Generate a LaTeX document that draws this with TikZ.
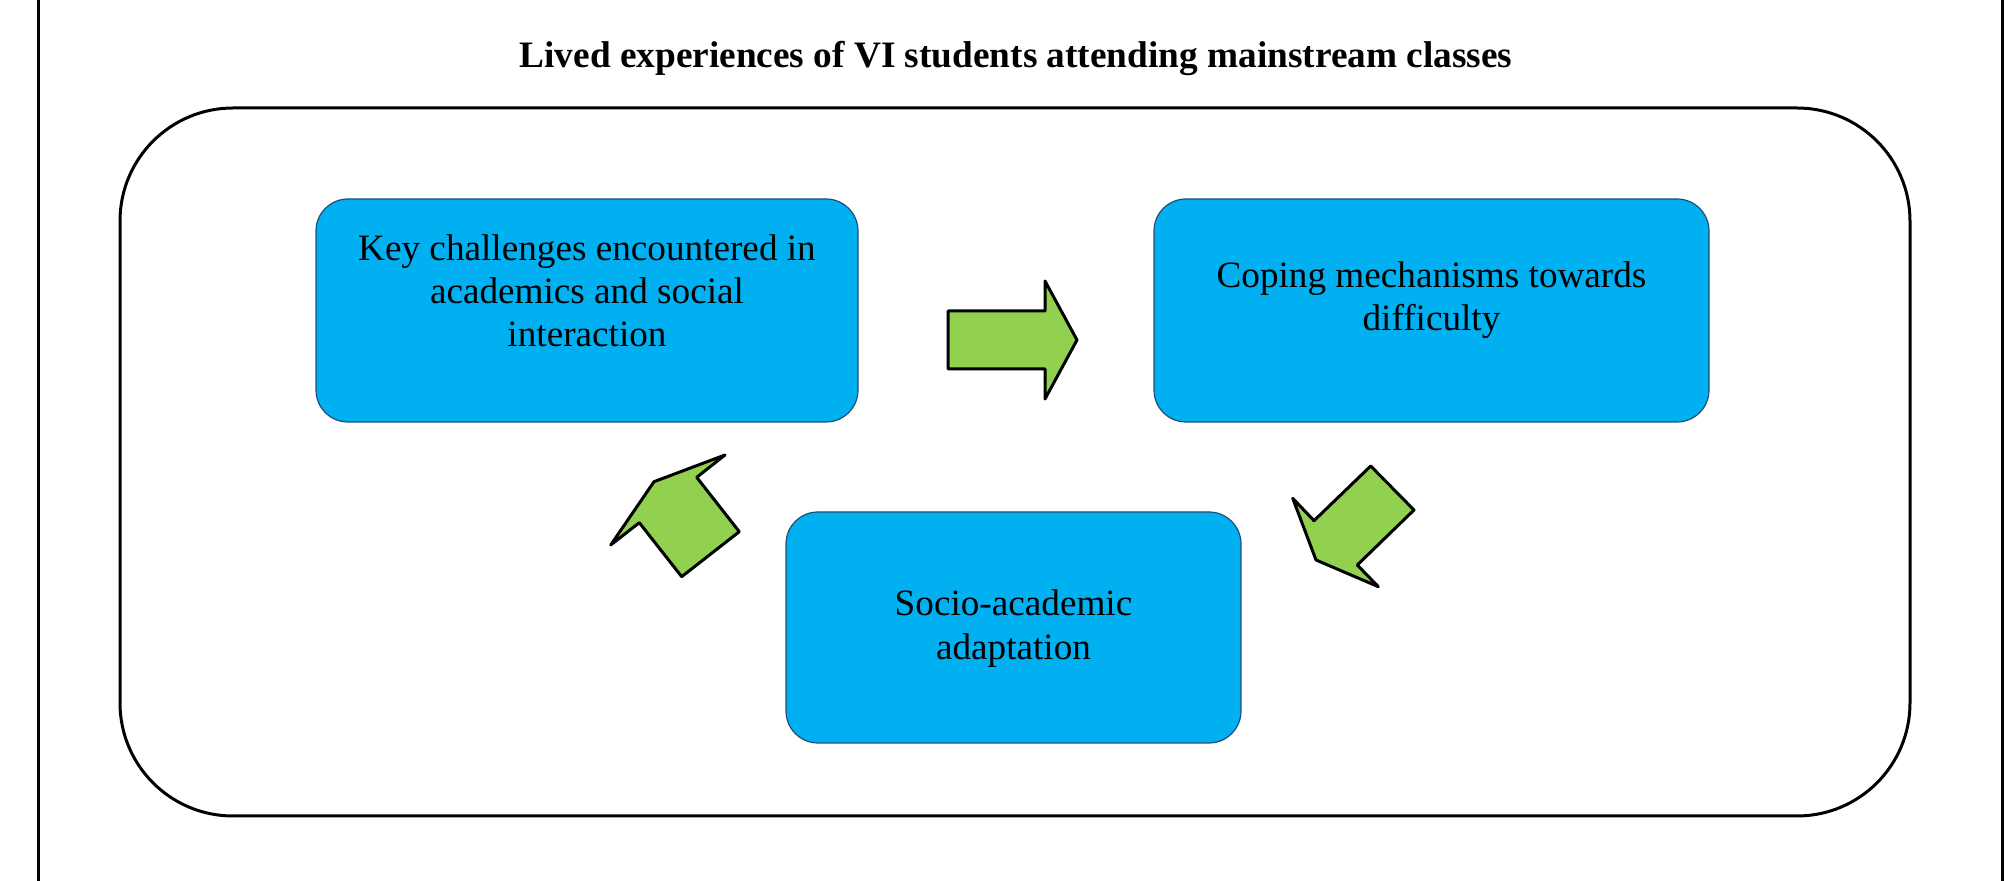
\documentclass[tikz,border=0pt]{standalone}
\usepackage{fontspec}
\setmainfont{Liberation Serif}
\definecolor{boxblue}{RGB}{0,176,240}
\definecolor{boxedge}{RGB}{31,78,121}
\definecolor{arrowgreen}{RGB}{146,208,80}
\begin{document}
\begin{tikzpicture}[x=0.5pt,y=-0.5pt,
  bluebox/.style={draw=boxedge, line width=0.6pt, fill=boxblue, rounded corners=16pt, inner sep=0pt},
  lbl/.style={align=center, inner sep=0pt, font=\fontsize{18.6pt}{21.65pt}\selectfont, anchor=north},
  titletext/.style={anchor=base, inner sep=0pt, font=\bfseries\fontsize{18.65pt}{22pt}\selectfont},
  blockarrow/.style={draw=black, line width=1.5pt, fill=arrowgreen, line join=round},
  frameline/.style={draw=black, line width=1.5pt},
  panel/.style={draw=black, line width=1.5pt, rounded corners=56.5pt}]
\useasboundingbox (0,0) rectangle (2010,881);
% outer side rules
\coordinate (ftl) at (38,0);
\coordinate (fbl) at (38,881);
\coordinate (ftr) at (2002,0);
\coordinate (fbr) at (2002,881);
\draw[frameline] (ftl) -- (fbl);
\draw[frameline] (ftr) -- (fbr);
% title
\node[titletext] (title) at (1016,68) {Lived experiences of VI students attending mainstream classes};
% big rounded panel
\coordinate (ptl) at (120,108);
\coordinate (pbr) at (1910,816);
\draw[panel] (ptl) rectangle (pbr);
% blue boxes
\node[bluebox, minimum width=271pt, minimum height=111.5pt] (b1) at (587,310.5) {};
\node[lbl] (t1) at (587,234) {Key challenges encountered in\\academics and social\\interaction};
\node[bluebox, minimum width=277.5pt, minimum height=111.5pt] (b2) at (1431.5,310.5) {};
\node[lbl] (t2) at (1431.5,261) {Coping mechanisms towards\\difficulty};
\node[bluebox, minimum width=227.5pt, minimum height=115.5pt] (b3) at (1013.5,627.5) {};
\node[lbl] (t3) at (1013.5,589.6) {Socio-academic\\adaptation};
% green block arrows
\draw[blockarrow] (948,311) -- (1045,311) -- (1045,281) -- (1077,340) -- (1045,399) -- (1045,369) -- (948,369) -- cycle;
\draw[blockarrow] (1370.7,466) -- (1414,510) -- (1357.3,565) -- (1378.3,586.7) -- (1316,560) -- (1292.7,498.3) -- (1314,520.7) -- cycle;
\draw[blockarrow] (681.7,576.7) -- (739.3,531.7) -- (696.7,477.3) -- (725,455) -- (654,481.7) -- (610.7,545) -- (639.3,522.7) -- cycle;
\end{tikzpicture}
\end{document}
